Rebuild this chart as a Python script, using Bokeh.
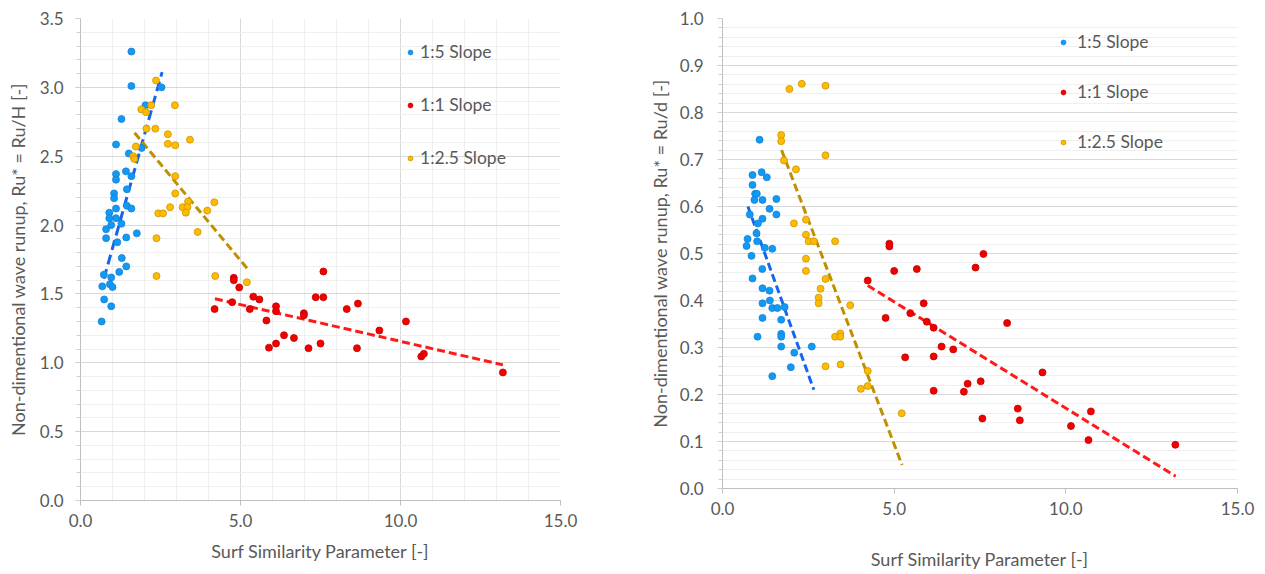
from bokeh.plotting import figure
from bokeh.layouts import row, column
from bokeh.models import (SingleIntervalTicker, PrintfTickFormatter, Legend, LegendItem)
from bokeh.embed import file_html
from bokeh.resources import INLINE

# ---------------- data: left chart (Ru/H) ----------------
L_s5_x = [1.59, 1.59, 2.53, 2.03, 1.28, 1.11, 1.91, 1.51, 1.42, 1.11, 1.11, 1.59, 1.45, 1.05, 1.05,
          1.11, 1.45, 1.59, 0.90, 0.90, 1.11, 0.96, 1.28, 0.80, 1.76, 0.80, 1.15, 1.43, 1.29, 1.43,
          1.21, 0.73, 0.96, 0.68, 0.92, 1.00, 0.74, 0.96, 0.66]
L_s5_y = [3.26, 3.01, 3.00, 2.87, 2.77, 2.585, 2.56, 2.52, 2.39, 2.37, 2.33, 2.355, 2.26, 2.23, 2.195,
          2.12, 2.14, 2.12, 2.09, 2.05, 2.05, 2.00, 2.01, 1.97, 1.94, 1.905, 1.875, 1.91, 1.76, 1.70,
          1.66, 1.64, 1.62, 1.555, 1.57, 1.55, 1.46, 1.41, 1.30]

L_s1_x = [4.79, 4.79, 4.96, 5.40, 5.59, 4.19, 4.74, 5.29, 5.81, 6.11, 6.11, 5.89, 6.11, 6.36, 6.67,
          6.98, 6.98, 7.125, 7.35, 7.59, 7.59, 7.50, 8.32, 8.67, 8.64, 9.34, 10.17, 10.65, 10.73, 13.2]
L_s1_y = [1.617, 1.60, 1.547, 1.48, 1.46, 1.39, 1.44, 1.39, 1.307, 1.41, 1.375, 1.11, 1.14, 1.20, 1.18,
          1.36, 1.345, 1.106, 1.476, 1.476, 1.663, 1.14, 1.39, 1.43, 1.106, 1.235, 1.30, 1.046, 1.065, 0.93]

L_s25_x = [2.36, 2.95, 2.21, 1.90, 2.05, 2.06, 2.34, 2.73, 2.73, 2.96, 3.42, 1.73, 1.65, 1.68, 2.96,
           2.96, 3.36, 4.18, 2.80, 3.19, 3.34, 3.29, 3.96, 2.43, 2.58, 3.66, 2.375, 2.375, 4.21, 5.20]
L_s25_y = [3.05, 2.87, 2.87, 2.84, 2.82, 2.70, 2.70, 2.66, 2.59, 2.58, 2.62, 2.57, 2.50, 2.48, 2.355,
           2.23, 2.17, 2.165, 2.13, 2.13, 2.13, 2.09, 2.105, 2.085, 2.085, 1.95, 1.905, 1.63, 1.63, 1.585]

# trend lines (end points)
L_tr5_x, L_tr5_y = [0.73, 2.55], [1.61, 3.11]
L_tr1_x, L_tr1_y = [4.20, 13.2], [1.465, 0.985]
L_tr25_x, L_tr25_y = [1.69, 5.28], [2.67, 1.665]

# ---------------- data: right chart (Ru/d) ----------------
R_s5_x = [1.08, 0.874, 1.14, 1.29, 0.874, 0.95, 1.00, 0.93, 1.165, 1.57, 1.37, 0.795, 1.57, 1.165,
          1.03, 0.99, 0.73, 0.70, 1.01, 1.23, 1.45, 0.845, 1.16, 0.874, 1.165, 1.37, 1.165, 1.38, 1.45,
          1.60, 1.81, 1.165, 1.71, 1.02, 1.71, 1.71, 1.71, 2.60, 2.09, 1.99, 1.45]
R_s5_y = [0.742, 0.667, 0.673, 0.662, 0.646, 0.627, 0.627, 0.614, 0.614, 0.616, 0.595, 0.583, 0.583,
          0.574, 0.564, 0.543, 0.531, 0.516, 0.526, 0.512, 0.51, 0.495, 0.467, 0.447, 0.426, 0.421,
          0.394, 0.40, 0.384, 0.384, 0.386, 0.363, 0.359, 0.323, 0.329, 0.323, 0.302, 0.302, 0.289,
          0.258, 0.239]

R_s1_x = [4.86, 4.86, 7.60, 5.00, 5.66, 7.37, 4.23, 5.86, 4.75, 5.47, 5.95, 6.15, 8.29, 6.38, 6.72,
          5.32, 6.15, 9.32, 7.14, 7.52, 7.03, 6.15, 8.60, 8.66, 7.57, 10.73, 10.15, 10.66, 13.19]
R_s1_y = [0.521, 0.515, 0.499, 0.463, 0.467, 0.47, 0.4425, 0.394, 0.363, 0.373, 0.355, 0.342, 0.352,
          0.302, 0.296, 0.279, 0.281, 0.247, 0.223, 0.228, 0.206, 0.208, 0.170, 0.145, 0.149, 0.164,
          0.133, 0.103, 0.093]

R_s25_x = [1.95, 2.31, 3.00, 1.71, 1.71, 1.79, 2.14, 3.00, 2.08, 2.43, 2.43, 2.51, 2.66, 3.28, 2.43,
           2.43, 3.00, 2.855, 2.80, 2.80, 3.72, 3.28, 3.43, 3.43, 3.00, 3.44, 4.23, 4.03, 4.23, 5.22]
R_s25_y = [0.850, 0.861, 0.857, 0.752, 0.739, 0.698, 0.679, 0.709, 0.564, 0.572, 0.54, 0.526, 0.526,
           0.526, 0.489, 0.463, 0.446, 0.425, 0.406, 0.394, 0.39, 0.323, 0.33, 0.323, 0.26, 0.264,
           0.25, 0.212, 0.218, 0.16]

R_tr5_x, R_tr5_y = [0.74, 2.66], [0.60, 0.21]
R_tr1_x, R_tr1_y = [4.23, 13.2], [0.432, 0.026]
R_tr25_x, R_tr25_y = [1.72, 5.23], [0.72, 0.05]

x_label = "Surf Similarity Parameter [-]"
L_ylabel = "Non-dimentional wave runup, Ru* = Ru/H [-]"
R_ylabel = "Non-dimentional wave runup, Ru* = Ru/d [-]"
names = ["1:5 Slope", "1:1 Slope", "1:2.5 Slope"]

FONT = "Lato"
TXT = "#595959"
BLUE, BLUE_L, BLUE_T = "#0f9bf5", "#1a7fd6", "#1565f0"
RED, RED_L, RED_T = "#f00000", "#c80000", "#ff1a1a"
GOLD, GOLD_L, GOLD_T = "#ffbb00", "#cc9600", "#bf9000"


def style(p, xmajor_grid=True):
    p.outline_line_color = None
    p.background_fill_color = "white"
    p.border_fill_color = "white"
    for ax in (p.xaxis[0], p.yaxis[0]):
        ax.axis_line_color = "#bfbfbf"
        ax.major_tick_line_color = "#bfbfbf"
        ax.minor_tick_line_color = "#d0d0d0"
        ax.major_label_text_color = TXT
        ax.major_label_text_font = FONT
        ax.major_label_text_font_size = "17px"
        ax.axis_label_text_color = TXT
        ax.axis_label_text_font = FONT
        ax.axis_label_text_font_size = "18px"
        ax.axis_label_text_font_style = "normal"
        ax.major_tick_in = 0
        ax.minor_tick_in = 0
        ax.major_tick_out = 5
        ax.minor_tick_out = 4
        ax.formatter = PrintfTickFormatter(format="%.1f")
    p.xaxis[0].minor_tick_line_color = None
    p.ygrid.grid_line_color = "#d9d9d9"
    p.ygrid.minor_grid_line_color = "#efefef"
    if xmajor_grid:
        p.xgrid.grid_line_color = "#d9d9d9"
        p.xgrid.minor_grid_line_color = "#efefef"
    else:
        p.xgrid.visible = False


def add_series(p, sx, sy, fill, line):
    return p.scatter(sx, sy, size=7, fill_color=fill, line_color=line, line_width=0.8)


def add_legend(p, rends, loc, spacing, standoff):
    items = [LegendItem(label=nm, renderers=[r]) for nm, r in zip(names, rends)]
    lg = Legend(items=items, location=loc, spacing=spacing, label_standoff=standoff,
                glyph_width=12, glyph_height=20, label_height=20, padding=0, margin=0,
                border_line_color=None, background_fill_alpha=0,
                label_text_font=FONT, label_text_font_size="17.5px", label_text_color=TXT)
    p.add_layout(lg)


# ---------------- left figure ----------------
p1 = figure(width=640, height=574, x_range=(0, 15), y_range=(0, 3.5),
            output_backend="svg", toolbar_location=None,
            min_border_left=80, min_border_right=80, min_border_top=18, min_border_bottom=74,
            x_axis_label=x_label, y_axis_label=L_ylabel)
p1.xaxis[0].ticker = SingleIntervalTicker(interval=5, num_minor_ticks=5)
p1.yaxis[0].ticker = SingleIntervalTicker(interval=0.5, num_minor_ticks=5)
style(p1, True)
p1.xaxis[0].major_label_standoff = 8
p1.xaxis[0].axis_label_standoff = 10
p1.yaxis[0].major_label_standoff = 12
p1.yaxis[0].axis_label_standoff = 8

p1.line(L_tr5_x, L_tr5_y, line_color=BLUE_T, line_width=3, line_dash="10 5")
p1.line(L_tr25_x, L_tr25_y, line_color=GOLD_T, line_width=3, line_dash="8 4")
p1.line(L_tr1_x, L_tr1_y, line_color=RED_T, line_width=3, line_dash="8 4")
r1 = [add_series(p1, L_s5_x, L_s5_y, BLUE, BLUE_L),
      add_series(p1, L_s1_x, L_s1_y, RED, RED_L),
      add_series(p1, L_s25_x, L_s25_y, GOLD, GOLD_L)]
add_legend(p1, r1, (324, 332), 32, 4)

# ---------------- right figure ----------------
p2 = figure(width=625, height=574, x_range=(0, 15), y_range=(0, 1.0),
            output_backend="svg", toolbar_location=None,
            min_border_left=82, min_border_right=28, min_border_top=18, min_border_bottom=86,
            x_axis_label=x_label, y_axis_label=R_ylabel)
p2.xaxis[0].ticker = SingleIntervalTicker(interval=5, num_minor_ticks=5)
p2.yaxis[0].ticker = SingleIntervalTicker(interval=0.1, num_minor_ticks=5)
style(p2, False)
p2.xaxis[0].major_label_standoff = 8
p2.xaxis[0].axis_label_standoff = 30
p2.yaxis[0].major_label_standoff = 14
p2.yaxis[0].axis_label_standoff = 6

p2.line(R_tr5_x, R_tr5_y, line_color=BLUE_T, line_width=3, line_dash="8 4")
p2.line(R_tr25_x, R_tr25_y, line_color=GOLD_T, line_width=3, line_dash="8 4")
p2.line(R_tr1_x, R_tr1_y, line_color=RED_T, line_width=3, line_dash="8 4")
r2 = [add_series(p2, R_s5_x, R_s5_y, BLUE, BLUE_L),
      add_series(p2, R_s1_x, R_s1_y, RED, RED_L),
      add_series(p2, R_s25_x, R_s25_y, GOLD, GOLD_L)]
add_legend(p2, r2, (335, 336), 29, 8)

layout = row(column(p1), column(p2))
open("out.html", "w").write(file_html(layout, INLINE))
